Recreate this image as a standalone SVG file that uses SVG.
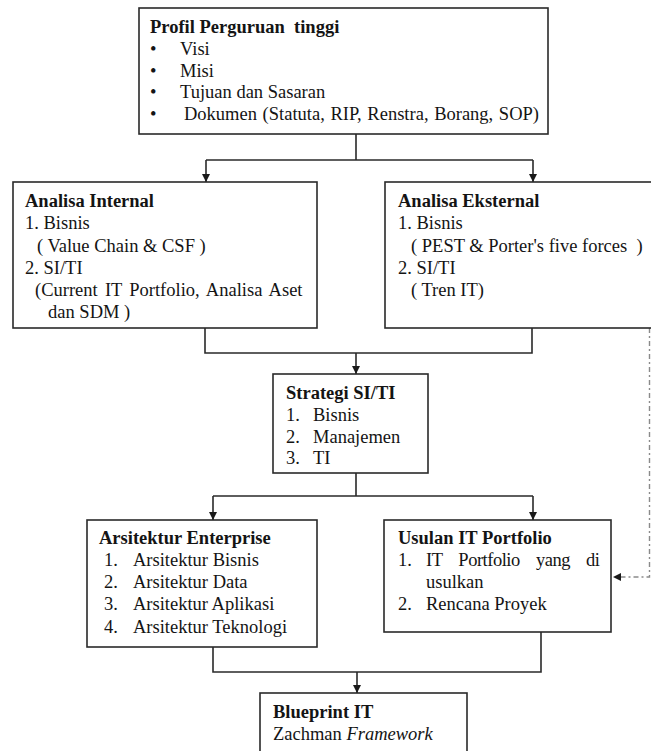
<svg xmlns="http://www.w3.org/2000/svg" width="651" height="751" viewBox="0 0 651 751">
  <style>
    .box { fill: #ffffff; stroke: #2a2a2a; stroke-width: 1.6; }
    .t { font-family: "Liberation Serif", "Times New Roman", serif; font-size: 18.5px; fill: #141414; }
    .b { font-weight: bold; }
    .i { font-style: italic; }
    .line { fill: none; stroke: #2a2a2a; stroke-width: 1.6; }
    .dash { fill: none; stroke: #8a8a8a; stroke-width: 1.4; stroke-dasharray: 5 3 2 3; }
  </style>
  <defs>
    <marker id="arr" viewBox="0 0 10 10" refX="10" refY="5" markerWidth="8" markerHeight="8" markerUnits="userSpaceOnUse" orient="auto">
      <path d="M0,0 L10,5 L0,10 Z" fill="#1a1a1a"/>
    </marker>
  </defs>
  <rect width="651" height="751" fill="#ffffff"/>

  <g id="connectors">
    <!-- profile to the two analyses -->
    <path class="line" d="M356,134 V160 M206,160 H533"/>
    <path class="line" d="M206,160 V182" marker-end="url(#arr)"/>
    <path class="line" d="M533,160 V182" marker-end="url(#arr)"/>
    <!-- analyses to strategy -->
    <path class="line" d="M205,328 V353 H532 V328"/>
    <path class="line" d="M356,353 V374" marker-end="url(#arr)"/>
    <!-- strategy to architecture and portfolio -->
    <path class="line" d="M356,473 V496 M213,496 H533"/>
    <path class="line" d="M213,496 V520" marker-end="url(#arr)"/>
    <path class="line" d="M533,496 V520" marker-end="url(#arr)"/>
    <!-- architecture and portfolio to blueprint -->
    <path class="line" d="M213,647 V672 H541 V632"/>
    <path class="line" d="M357,672 V693" marker-end="url(#arr)"/>
    <!-- external trends feed the proposed portfolio -->
    <path class="dash" d="M649.5,328 V577 H613" marker-end="url(#arr)"/>
  </g>

  <g id="profil">
    <rect class="box" x="139" y="8" width="409" height="126"/>
    <text class="t b" x="150" y="33">Profil Perguruan&#160; tinggi</text>
    <text class="t" x="150" y="55">•</text>
    <text class="t" x="180" y="55">Visi</text>
    <text class="t" x="150" y="77">•</text>
    <text class="t" x="180" y="77">Misi</text>
    <text class="t" x="150" y="98">•</text>
    <text class="t" x="180" y="98">Tujuan dan Sasaran</text>
    <text class="t" x="150" y="120">•</text>
    <text class="t" x="184" y="120" word-spacing="1">Dokumen (Statuta, RIP, Renstra, Borang, SOP)</text>
  </g>

  <g id="analisa-internal">
    <rect class="box" x="13" y="182" width="304" height="146"/>
    <text class="t b" x="25" y="207">Analisa Internal</text>
    <text class="t" x="25" y="229">1. Bisnis</text>
    <text class="t" x="37" y="252">( Value Chain &amp; CSF )</text>
    <text class="t" x="25" y="274">2. SI/TI</text>
    <text class="t" x="35" y="296" word-spacing="2.6">(Current IT Portfolio, Analisa Aset</text>
    <text class="t" x="48" y="318">dan SDM )</text>
  </g>

  <g id="analisa-eksternal">
    <rect class="box" x="385" y="182" width="280" height="146"/>
    <text class="t b" x="398" y="207">Analisa Eksternal</text>
    <text class="t" x="398" y="229">1. Bisnis</text>
    <text class="t" x="411" y="252">( PEST &amp; Porter's five forces&#160; )</text>
    <text class="t" x="398" y="274">2. SI/TI</text>
    <text class="t" x="411" y="296">( Tren IT)</text>
  </g>

  <g id="strategi">
    <rect class="box" x="273" y="374" width="155" height="99"/>
    <text class="t b" x="286" y="399">Strategi SI/TI</text>
    <text class="t" x="286" y="421">1.</text>
    <text class="t" x="313" y="421">Bisnis</text>
    <text class="t" x="286" y="443">2.</text>
    <text class="t" x="313" y="443">Manajemen</text>
    <text class="t" x="286" y="464">3.</text>
    <text class="t" x="313" y="464">TI</text>
  </g>

  <g id="arsitektur-enterprise">
    <rect class="box" x="87" y="520" width="230" height="127"/>
    <text class="t b" x="99" y="544">Arsitektur Enterprise</text>
    <text class="t" x="104" y="566">1.</text>
    <text class="t" x="133" y="566">Arsitektur Bisnis</text>
    <text class="t" x="104" y="588">2.</text>
    <text class="t" x="133" y="588">Arsitektur Data</text>
    <text class="t" x="104" y="610">3.</text>
    <text class="t" x="133" y="610">Arsitektur Aplikasi</text>
    <text class="t" x="104" y="633">4.</text>
    <text class="t" x="133" y="633">Arsitektur Teknologi</text>
  </g>

  <g id="usulan-it-portfolio">
    <rect class="box" x="384" y="520" width="227" height="112"/>
    <text class="t b" x="398" y="544">Usulan IT Portfolio</text>
    <text class="t" x="398" y="566">1.</text>
    <text class="t" x="426" y="566" textLength="174" lengthAdjust="spacing" word-spacing="12">IT Portfolio yang di</text>
    <text class="t" x="426" y="588">usulkan</text>
    <text class="t" x="398" y="610">2.</text>
    <text class="t" x="426" y="610">Rencana Proyek</text>
  </g>

  <g id="blueprint-it">
    <rect class="box" x="260" y="693" width="207" height="70"/>
    <text class="t b" x="273" y="718">Blueprint IT</text>
    <text class="t" x="273" y="740">Zachman <tspan class="i">Framework</tspan></text>
  </g>
</svg>
